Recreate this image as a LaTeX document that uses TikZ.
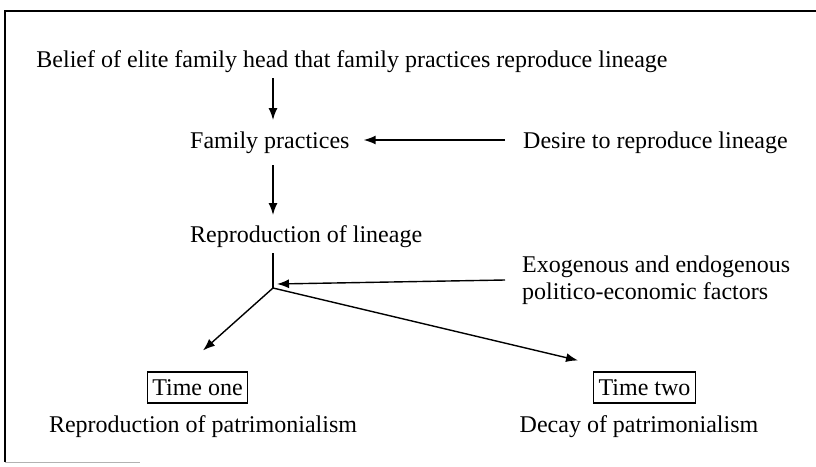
\documentclass[tikz,border=0pt]{standalone}
\usepackage{fontspec}
\setmainfont{Liberation Serif}
\usetikzlibrary{arrows.meta,calc}
\begin{document}
\begin{tikzpicture}[x=1pt,y=-1pt,
  txt/.style={inner sep=0pt,font=\fontsize{24}{27}\selectfont},
  tbox/.style={draw,line width=1.1pt,inner sep=0pt,inner xsep=5pt,minimum height=31pt,font=\fontsize{24}{27}\selectfont},
  arr/.style={line width=1.4pt,-{Latex[length=12pt,width=9pt]}},
  ln/.style={line width=1.4pt}]
\useasboundingbox (0,0) rectangle (816,466);
% frame
\draw[line width=1.2pt] (816,11) -- (5,11) -- (5,462);
\draw[gray!60,line width=1pt] (5,462) -- (140,462);
% nodes
\node[txt,anchor=base] (title) at (352,67) {Belief of elite family head that family practices reproduce lineage};
\node[txt,anchor=base west] (fam) at (190,148) {Family practices};
\node[txt,anchor=base west] (desire) at (523,148) {Desire to reproduce lineage};
\node[txt,anchor=base west] (repro) at (190,242) {Reproduction of lineage};
\node[txt,anchor=base west] (exo1) at (522,272) {Exogenous and endogenous};
\node[txt,anchor=base west] (exo2) at (522,299) {politico-economic factors};
\node[tbox] (t1) at (197.5,387.5) {Time one};
\node[tbox] (t2) at (644.5,387.5) {Time two};
\node[txt,anchor=base] (rp) at (203,432) {Reproduction of patrimonialism};
\node[txt,anchor=base] (dp) at (639,432) {Decay of patrimonialism};
% connectors
\draw[arr] ($(title.base -| fam.base west)+(83,11)$) -- ($(fam.base west)+(83,-28)$);
\draw[arr] ($(desire.base west)+(-18,-8)$) -- ($(fam.base east)+(14,-8)$);
\draw[arr] ($(fam.base west)+(83,17)$) -- ($(repro.base west)+(83,-27)$);
\coordinate (j) at ($(repro.base west)+(83,46)$);
\draw[ln] ($(repro.base west)+(83,11)$) -- (j);
\draw[arr] ($(exo1.base west)+(-17,8)$) -- ($(j)+(4,-4)$);
\draw[arr] (j) -- ($(t1.north)+(5.5,-21)$);
\draw[arr] (j) -- ($(t2.north west)+(-15,-11)$);
\end{tikzpicture}
\end{document}
